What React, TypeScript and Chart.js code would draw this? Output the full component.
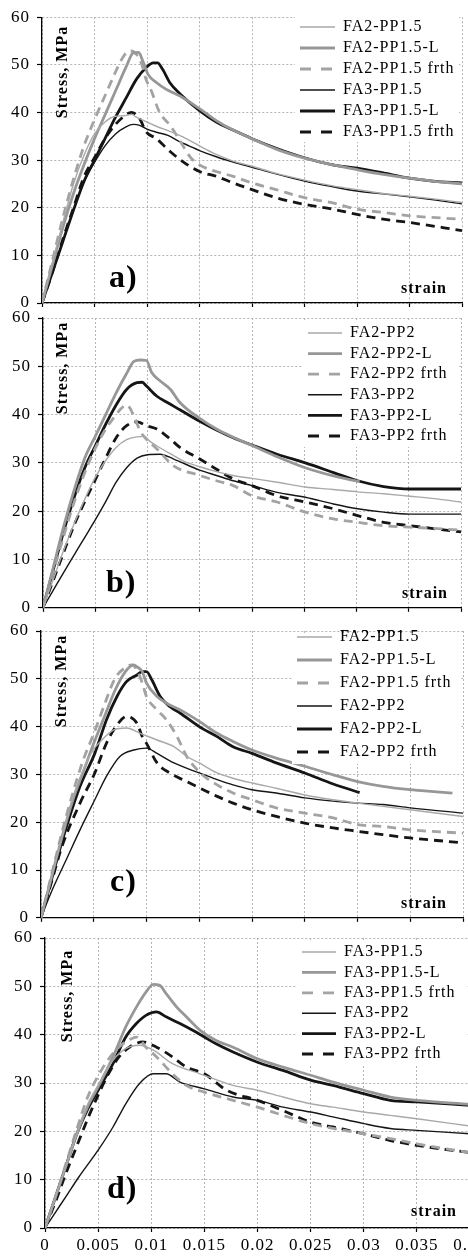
import React, { useEffect, useRef } from 'react';
import { Chart, registerables } from 'chart.js';

Chart.register(...registerables);

type Pt = [number, number];

// ---------- axis ranges ----------
const X_MIN = 0;
const X_MAX = 0.04;
const X_STEP = 0.005;
const Y_MIN = 0;
const Y_MAX = 60;
const Y_STEP = 10;

// ---------- legend labels ----------
const LABELS_A = ['FA2-PP1.5', 'FA2-PP1.5-L', 'FA2-PP1.5 frth', 'FA3-PP1.5', 'FA3-PP1.5-L', 'FA3-PP1.5 frth'];
const LABELS_B = ['FA2-PP2', 'FA2-PP2-L', 'FA2-PP2 frth', 'FA3-PP2', 'FA3-PP2-L', 'FA3-PP2 frth'];
const LABELS_C = ['FA2-PP1.5', 'FA2-PP1.5-L', 'FA2-PP1.5 frth', 'FA2-PP2', 'FA2-PP2-L', 'FA2-PP2 frth'];
const LABELS_D = ['FA3-PP1.5', 'FA3-PP1.5-L', 'FA3-PP1.5 frth', 'FA3-PP2', 'FA3-PP2-L', 'FA3-PP2 frth'];

// ---------- panel a: [strain, stress MPa] ----------
const A_FA2_PP15: Pt[] = [[0,0],[0.001,8.5],[0.002,17],[0.003,25],[0.004,31],[0.005,35.5],[0.006,38],[0.007,39.2],[0.0078,39.3],[0.0085,39.6],[0.009,39],[0.01,38],[0.011,37],[0.012,36.2],[0.013,35.3],[0.014,34.2],[0.015,33],[0.0166,31.2],[0.0182,29.8],[0.02,28.7],[0.0223,27.2],[0.025,25.8],[0.0277,24.6],[0.03,23.8],[0.0325,23],[0.035,22.4],[0.0375,21.8],[0.04,21.1]];
const A_FA2_PP15_L: Pt[] = [[0,0],[0.001,8],[0.002,16],[0.003,23],[0.004,29],[0.005,34.5],[0.006,39.5],[0.007,44.5],[0.008,49.5],[0.0087,52.5],[0.0092,52.6],[0.0096,50.8],[0.0101,48],[0.0109,46.3],[0.0118,44.9],[0.0131,43.5],[0.015,40.8],[0.0166,38.3],[0.0182,36.3],[0.02,34.5],[0.0223,32.3],[0.025,30.4],[0.0277,29],[0.03,28],[0.0325,27],[0.035,26.2],[0.0372,25.6],[0.04,25]];
const A_FA2_PP15_F: Pt[] = [[0,0],[0.001,9],[0.002,18],[0.003,26],[0.004,33],[0.005,38.5],[0.006,43.5],[0.007,48.5],[0.0076,51.2],[0.0082,52.8],[0.0085,52.9],[0.009,52.2],[0.0095,50.1],[0.0099,47],[0.0104,44.6],[0.0112,40],[0.0122,37.3],[0.0131,34.2],[0.0141,30.7],[0.015,29],[0.0166,27.6],[0.0182,26.6],[0.02,25.2],[0.0223,23.8],[0.025,22.1],[0.0277,21],[0.03,19.7],[0.0325,19],[0.035,18.3],[0.04,17.6]];
const A_FA3_PP15: Pt[] = [[0,0],[0.001,6.5],[0.002,13],[0.003,19.5],[0.004,25.5],[0.005,29.5],[0.006,33],[0.007,35.5],[0.008,37],[0.0087,37.5],[0.0093,37.3],[0.01,36.5],[0.011,35.8],[0.012,35.2],[0.013,34],[0.014,33],[0.015,32],[0.0166,30.7],[0.0182,29.6],[0.02,28.5],[0.0223,27.1],[0.025,25.6],[0.0277,24.4],[0.03,23.5],[0.0325,22.9],[0.035,22.3],[0.0375,21.6],[0.04,20.8]];
const A_FA3_PP15_L: Pt[] = [[0,0],[0.001,6.5],[0.002,13],[0.003,19.5],[0.004,25.5],[0.005,30],[0.006,34.5],[0.007,39],[0.008,43],[0.009,47],[0.0099,49.4],[0.0106,50.4],[0.011,50.4],[0.0115,49],[0.0122,46.2],[0.0131,44],[0.015,40.4],[0.0166,38],[0.0182,36.3],[0.02,34.5],[0.0223,32.5],[0.025,30.5],[0.0277,29],[0.03,28.3],[0.0325,27.3],[0.035,26.2],[0.0372,25.6],[0.04,25.2]];
const A_FA3_PP15_F: Pt[] = [[0,0],[0.001,6.5],[0.002,13.5],[0.003,20],[0.004,26.5],[0.005,30.5],[0.006,34.5],[0.007,37.5],[0.008,39.5],[0.0085,40],[0.0093,38.7],[0.0099,36],[0.0109,34.5],[0.0122,31.8],[0.0134,29.7],[0.015,27.6],[0.0166,26.6],[0.0182,25.2],[0.02,23.8],[0.0223,22.1],[0.025,20.7],[0.0277,19.7],[0.03,18.6],[0.0325,17.6],[0.035,16.9],[0.04,15.2]];

// ---------- panel b ----------
const B_FA2_PP2: Pt[] = [[0,0],[0.001,6],[0.002,12],[0.003,17.5],[0.004,22.5],[0.005,27],[0.006,30.5],[0.007,33.2],[0.008,34.8],[0.009,35.4],[0.0097,35.5],[0.0102,34.5],[0.0109,33.5],[0.0125,31.5],[0.0135,30.3],[0.015,29.2],[0.0166,28.2],[0.0182,27.4],[0.02,26.8],[0.0224,26],[0.0251,25],[0.0278,24.5],[0.0301,24],[0.0326,23.6],[0.0351,23.1],[0.0375,22.6],[0.04,21.9]];
const B_FA2_PP2_L: Pt[] = [[0,0],[0.001,8.5],[0.002,17],[0.003,24.5],[0.004,31],[0.005,35.5],[0.006,40],[0.007,44.5],[0.008,48.5],[0.0087,51],[0.0093,51.3],[0.0099,51.2],[0.0104,48.7],[0.0112,47],[0.0122,45.2],[0.0131,42.5],[0.015,39.2],[0.0166,37],[0.0182,35.3],[0.02,33.6],[0.0224,31.3],[0.0251,29],[0.0278,27.3],[0.0303,26.1]];
const B_FA2_PP2_F: Pt[] = [[0,0],[0.001,7.5],[0.002,15],[0.003,22],[0.004,28],[0.005,33],[0.006,37],[0.007,40],[0.0075,41.3],[0.008,42],[0.0087,39.7],[0.0093,36.6],[0.0099,34.9],[0.0109,32.9],[0.0125,29.4],[0.015,27.4],[0.0166,26.3],[0.0182,25.3],[0.02,23.2],[0.0224,21.9],[0.0251,19.8],[0.0278,18.4],[0.0301,17.7],[0.0326,17],[0.0351,16.7],[0.04,16.1]];
const B_FA3_PP2: Pt[] = [[0,0],[0.001,3.7],[0.002,7.4],[0.003,11],[0.004,14.6],[0.005,18.2],[0.006,22],[0.007,26],[0.008,29],[0.009,31],[0.01,31.7],[0.0112,31.8],[0.0125,30.8],[0.015,28.5],[0.0166,27.4],[0.0182,26.3],[0.02,25.3],[0.0224,23.9],[0.0251,22.9],[0.0278,21.5],[0.0301,20.5],[0.0326,19.8],[0.0351,19.4],[0.04,19.4]];
const B_FA3_PP2_L: Pt[] = [[0,0],[0.001,8],[0.002,16],[0.003,23],[0.004,29],[0.005,33.5],[0.006,38],[0.007,42],[0.008,45.2],[0.009,46.6],[0.0095,46.7],[0.0099,45.9],[0.0109,43.8],[0.0119,42.5],[0.0131,41],[0.015,38.6],[0.0166,36.8],[0.0182,35.2],[0.02,33.7],[0.0224,31.8],[0.0251,30],[0.0278,28],[0.0301,26.3],[0.0326,25.1],[0.0351,24.6],[0.04,24.6]];
const B_FA3_PP2_F: Pt[] = [[0,0],[0.001,5.8],[0.002,11.6],[0.003,17.2],[0.004,22],[0.005,26.5],[0.006,31],[0.007,35.2],[0.008,37.7],[0.009,38.5],[0.0099,37.7],[0.0109,37],[0.0122,34.9],[0.0131,33.2],[0.015,30.8],[0.0166,28.7],[0.0182,26.7],[0.02,25.3],[0.0224,23.2],[0.0251,21.9],[0.0278,20.5],[0.0301,19.1],[0.0326,17.7],[0.0351,17],[0.04,15.7]];

// ---------- panel c ----------
const C_FA2_PP15: Pt[] = [[0,0],[0.001,8.5],[0.002,17],[0.003,25],[0.004,31],[0.005,35.3],[0.0056,36.8],[0.0069,39.3],[0.0081,39.7],[0.0094,38.6],[0.011,37.2],[0.0126,35.8],[0.0138,33.8],[0.015,32.4],[0.0167,30.3],[0.0182,29.2],[0.02,28.2],[0.0223,27.1],[0.025,25.7],[0.0277,24.7],[0.03,24],[0.0324,23.3],[0.035,22.6],[0.04,21.2]];
const C_FA2_PP15_L: Pt[] = [[0,0],[0.001,8.5],[0.002,17],[0.003,24.5],[0.004,30.5],[0.005,36.5],[0.006,42],[0.007,47.5],[0.008,51.5],[0.0088,52.9],[0.0091,52.5],[0.0096,51.5],[0.01,49.1],[0.011,46.3],[0.0119,44.9],[0.0132,43.5],[0.015,41.1],[0.0167,38.6],[0.0182,36.9],[0.02,35.1],[0.0223,33.4],[0.025,31.7],[0.0277,29.9],[0.03,28.5],[0.0324,27.5],[0.035,26.8],[0.0372,26.4],[0.039,26.1]];
const C_FA2_PP15_F: Pt[] = [[0,0],[0.001,9],[0.002,18],[0.003,26],[0.004,33],[0.005,38.5],[0.006,44.5],[0.007,50],[0.0081,52.5],[0.0086,52.9],[0.0091,51.8],[0.0096,49.1],[0.01,46.3],[0.011,43.5],[0.0119,41.4],[0.0129,37.9],[0.0138,33.8],[0.0151,30.3],[0.0167,27.8],[0.0182,26.1],[0.02,24.7],[0.0223,23],[0.025,21.9],[0.0277,20.9],[0.03,19.5],[0.0324,19.1],[0.035,18.4],[0.04,17.7]];
const C_FA2_PP2: Pt[] = [[0,0],[0.001,5.5],[0.0024,12.2],[0.0037,18.4],[0.0051,24.7],[0.0062,29.6],[0.0075,33.8],[0.0088,35.1],[0.01,35.5],[0.011,34.4],[0.0126,32.4],[0.015,30.3],[0.0167,28.9],[0.0182,27.8],[0.02,26.8],[0.0223,26.1],[0.025,25.1],[0.0277,24.4],[0.03,24],[0.0324,23.7],[0.035,23],[0.04,21.9]];
const C_FA2_PP2_L: Pt[] = [[0,0],[0.001,8],[0.002,16],[0.0037,27.5],[0.0051,34.4],[0.0062,41.4],[0.0072,46.3],[0.0081,49.4],[0.0091,50.8],[0.0096,51.5],[0.01,51.5],[0.0105,49.8],[0.0113,46.3],[0.0122,44.2],[0.0132,42.8],[0.015,40],[0.0167,37.9],[0.0182,35.8],[0.02,34.4],[0.0223,32.4],[0.025,30.3],[0.0277,28],[0.0302,26.2]];
const C_FA2_PP2_F: Pt[] = [[0,0],[0.001,7.5],[0.002,15],[0.0037,24],[0.0051,30.3],[0.0062,36.5],[0.0071,40],[0.0081,42.1],[0.0091,40.7],[0.0096,37.9],[0.01,36.5],[0.011,32.4],[0.0122,30.3],[0.0138,28.5],[0.0151,27.1],[0.0167,25.4],[0.0182,24],[0.02,22.6],[0.0223,21.2],[0.025,19.8],[0.0277,18.8],[0.03,18.1],[0.0324,17.4],[0.035,16.7],[0.04,15.7]];

// ---------- panel d ----------
const D_FA3_PP15: Pt[] = [[0,0],[0.001,6.5],[0.002,13],[0.003,19.5],[0.004,25.5],[0.005,29.5],[0.0064,34.7],[0.0076,37.1],[0.0089,37.8],[0.0102,36.8],[0.012,34],[0.0146,31.9],[0.0177,29.5],[0.02,28.5],[0.0224,27.1],[0.025,25.7],[0.0271,25],[0.03,24],[0.0325,23.3],[0.035,22.6],[0.04,21.1]];
const D_FA3_PP15_L: Pt[] = [[0,0],[0.001,6.5],[0.002,13],[0.003,19.5],[0.004,25],[0.005,29.2],[0.0064,35.4],[0.0076,41.6],[0.0086,45.7],[0.0095,48.8],[0.0102,50.4],[0.0108,50.2],[0.0114,48.5],[0.0124,45.7],[0.0133,43.7],[0.0146,40.9],[0.0161,38.8],[0.0177,37.4],[0.02,35],[0.0224,33.3],[0.025,31.6],[0.0271,30.2],[0.03,28.5],[0.0325,27.1],[0.035,26.4],[0.04,25.6]];
const D_FA3_PP15_F: Pt[] = [[0,0],[0.001,6.5],[0.002,13.5],[0.003,20.5],[0.004,27],[0.005,31.5],[0.006,35],[0.007,37.5],[0.008,39],[0.0086,39.5],[0.0095,37.4],[0.0105,35.4],[0.012,31.9],[0.0133,29.5],[0.015,28.1],[0.0177,26.4],[0.02,25],[0.0224,23.3],[0.025,21.6],[0.0271,20.6],[0.03,19.5],[0.0325,18.5],[0.035,17.4],[0.04,15.6]];
const D_FA3_PP2: Pt[] = [[0,0],[0.001,3.3],[0.002,6.6],[0.0032,10.6],[0.005,16.1],[0.0064,20.9],[0.0076,25.7],[0.0089,29.9],[0.0102,31.9],[0.0114,31.9],[0.0127,30.2],[0.015,28.8],[0.0177,27.1],[0.02,26.4],[0.0224,25],[0.025,24],[0.0271,23],[0.03,21.6],[0.0325,20.6],[0.035,20.2],[0.04,19.5]];
const D_FA3_PP2_L: Pt[] = [[0,0],[0.001,6.5],[0.002,13],[0.003,19.5],[0.004,24.5],[0.005,28.5],[0.0064,34],[0.0076,39.5],[0.0086,42.3],[0.0095,44],[0.0105,44.7],[0.0114,43.7],[0.0127,42.3],[0.0139,40.9],[0.015,39.5],[0.0161,38.1],[0.0177,36.4],[0.02,34.3],[0.0224,32.6],[0.025,30.6],[0.0271,29.5],[0.03,27.8],[0.0325,26.4],[0.035,26.1],[0.04,25.4]];
const D_FA3_PP2_F: Pt[] = [[0,0],[0.001,5.5],[0.002,11.5],[0.003,17],[0.004,22.5],[0.005,27.5],[0.006,32],[0.007,35.5],[0.008,37.5],[0.0092,38.5],[0.0105,37.4],[0.012,35.4],[0.0133,33.3],[0.015,31.9],[0.0171,28.5],[0.02,26.4],[0.0224,24.3],[0.025,21.9],[0.0271,20.9],[0.03,19.5],[0.0325,18.1],[0.035,17.1],[0.04,15.6]];

// ---------- styles (thin grey, thick grey, dashed grey, thin black, thick black, dashed black) ----------
const STYLES = [
  { color: '#a9a9a9', width: 1.4, dash: [] as number[] },
  { color: '#979797', width: 2.8, dash: [] as number[] },
  { color: '#a3a3a3', width: 2.8, dash: [9, 6] },
  { color: '#151515', width: 1.4, dash: [] as number[] },
  { color: '#151515', width: 2.8, dash: [] as number[] },
  { color: '#151515', width: 2.8, dash: [9, 6] },
];
const LEGEND_DASH = [11, 10];

const SERIF = "'Liberation Serif', 'Times New Roman', serif";

interface PanelDef {
  key: string;
  letter: string;
  labels: string[];
  series: Pt[][];
  canvasTop: number;
  canvasH: number;
  canvasW: number;
  area: { l: number; r: number; t: number; b: number };
  xLabels: boolean;
  legend: { x: number; y: number; pad: number; box: number };
  bg: { x1: number; x2: number; y1: number; y2: number };
  stress: { x: number; y: number };
  strain: { x: number; y: number };
  letterPos: { x: number; y: number };
}

const PANELS: PanelDef[] = [
  {
    key: 'a', letter: 'a)', labels: LABELS_A,
    series: [A_FA2_PP15, A_FA2_PP15_L, A_FA2_PP15_F, A_FA3_PP15, A_FA3_PP15_L, A_FA3_PP15_F],
    canvasTop: 0, canvasH: 325, canvasW: 468,
    area: { l: 42, r: 462, t: 14, b: 303 }, xLabels: false,
    legend: { x: 300, y: 27, pad: 5, box: 35 },
    bg: { x1: 295, x2: 459, y1: 16, y2: 142 },
    stress: { x: 63, y: 72 }, strain: { x: 447, y: 293 }, letterPos: { x: 109, y: 287 },
  },
  {
    key: 'b', letter: 'b)', labels: LABELS_B,
    series: [B_FA2_PP2, B_FA2_PP2_L, B_FA2_PP2_F, B_FA3_PP2, B_FA3_PP2_L, B_FA3_PP2_F],
    canvasTop: 300, canvasH: 325, canvasW: 468,
    area: { l: 43, r: 461, t: 318, b: 609 }, xLabels: false,
    legend: { x: 308, y: 333, pad: 4.6, box: 34 },
    bg: { x1: 303, x2: 458, y1: 321, y2: 447 },
    stress: { x: 63, y: 368 }, strain: { x: 448, y: 598 }, letterPos: { x: 106, y: 592 },
  },
  {
    key: 'c', letter: 'c)', labels: LABELS_C,
    series: [C_FA2_PP15, C_FA2_PP15_L, C_FA2_PP15_F, C_FA2_PP2, C_FA2_PP2_L, C_FA2_PP2_F],
    canvasTop: 612, canvasH: 323, canvasW: 468,
    area: { l: 41, r: 463, t: 631, b: 918 }, xLabels: false,
    legend: { x: 297, y: 637, pad: 7, box: 35 },
    bg: { x1: 292, x2: 460, y1: 633, y2: 764 },
    stress: { x: 62, y: 681 }, strain: { x: 447, y: 908 }, letterPos: { x: 110, y: 891 },
  },
  {
    key: 'd', letter: 'd)', labels: LABELS_D,
    series: [D_FA3_PP15, D_FA3_PP15_L, D_FA3_PP15_F, D_FA3_PP2, D_FA3_PP2_L, D_FA3_PP2_F],
    canvasTop: 920, canvasH: 336, canvasW: 500,
    area: { l: 45, r: 470, t: 938, b: 1228 }, xLabels: true,
    legend: { x: 302, y: 952, pad: 4.4, box: 34 },
    bg: { x1: 297, x2: 467, y1: 941, y2: 1065 },
    stress: { x: 68, y: 996 }, strain: { x: 457, y: 1216 }, letterPos: { x: 107, y: 1198 },
  },
];

function fmtStrain(v: number): string {
  return String(parseFloat(Number(v).toFixed(4)));
}

function Panel({ p }: { p: PanelDef }) {
  const ref = useRef<HTMLCanvasElement | null>(null);

  useEffect(() => {
    const canvas = ref.current;
    if (!canvas) return;
    const off = p.canvasTop;
    const SPACING = '1px';

    const decor = {
      id: 'decor_' + p.key,
      beforeLayout(chart: any) {
        chart.ctx.letterSpacing = SPACING;
      },
      afterLayout(chart: any) {
        const lg = chart.legend;
        if (!lg) return;
        lg.left = p.legend.x - p.legend.pad;
        lg.top = p.legend.y - off - 8 - p.legend.pad;
        lg.right = chart.width;
        lg.bottom = chart.height;
      },
      beforeDraw(chart: any) {
        chart.ctx.letterSpacing = SPACING;
      },
      afterDatasetsDraw(chart: any) {
        const ctx: CanvasRenderingContext2D = chart.ctx;
        ctx.save();
        ctx.fillStyle = '#ffffff';
        ctx.fillRect(p.bg.x1, p.bg.y1 - off, p.bg.x2 - p.bg.x1, p.bg.y2 - p.bg.y1);
        ctx.restore();
        if (chart.legend) chart.legend.draw(chart.chartArea);

        ctx.save();
        (ctx as any).letterSpacing = SPACING;
        ctx.fillStyle = '#000';
        ctx.save();
        ctx.translate(p.stress.x, p.stress.y - off);
        ctx.rotate(-Math.PI / 2);
        ctx.font = `bold 16px ${SERIF}`;
        ctx.textAlign = 'center';
        ctx.textBaseline = 'middle';
        ctx.fillText('Stress, MPa', 0, 0);
        ctx.restore();
        ctx.font = `bold 16px ${SERIF}`;
        ctx.textAlign = 'right';
        ctx.textBaseline = 'alphabetic';
        ctx.fillText('strain', p.strain.x, p.strain.y - off);
        ctx.font = `bold 32px ${SERIF}`;
        ctx.textAlign = 'left';
        ctx.fillText(p.letter, p.letterPos.x, p.letterPos.y - off);
        ctx.restore();
      },
    };

    const datasets = p.series.map((pts, i) => ({
      label: p.labels[i],
      data: pts.map(([x, y]) => ({ x, y })),
      borderColor: STYLES[i].color,
      backgroundColor: STYLES[i].color,
      borderWidth: STYLES[i].width,
      borderDash: STYLES[i].dash,
      pointRadius: 0,
      pointHoverRadius: 0,
      fill: false,
      cubicInterpolationMode: 'monotone' as const,
    }));

    const gridCommon = {
      color: '#b4b4b4',
      lineWidth: 1,
      tickColor: '#000',
      tickLength: 5,
      tickWidth: 1.2,
      drawTicks: true,
    };

    const tickFont = { family: SERIF, size: 17 };

    const chart = new Chart(canvas, {
      type: 'line',
      data: { datasets },
      options: {
        animation: false,
        responsive: false,
        maintainAspectRatio: false,
        devicePixelRatio: 1,
        events: [],
        layout: {
          padding: {
            left: 0,
            right: p.canvasW - p.area.r,
            top: p.area.t - off,
            bottom: 0,
          },
        },
        scales: {
          x: {
            type: 'linear',
            min: X_MIN,
            max: X_MAX,
            grid: { ...gridCommon, tickLength: 4 },
            border: { display: true, color: '#000', width: 1.3, dash: [2, 2] },
            ticks: {
              display: p.xLabels,
              stepSize: X_STEP,
              autoSkip: false,
              maxRotation: 0,
              padding: 3,
              color: '#000',
              font: tickFont,
              callback: (v: any) => fmtStrain(Number(v)),
            },
            afterFit: (s: any) => {
              s.height = off + p.canvasH - p.area.b;
            },
          },
          y: {
            type: 'linear',
            min: Y_MIN,
            max: Y_MAX,
            grid: gridCommon,
            border: { display: true, color: '#000', width: 1.3, dash: [2, 2] },
            ticks: {
              stepSize: Y_STEP,
              padding: 7,
              color: '#000',
              font: tickFont,
            },
            afterFit: (s: any) => {
              s.width = p.area.l;
            },
          },
        },
        plugins: {
          tooltip: { enabled: false },
          legend: {
            display: true,
            position: 'chartArea' as any,
            align: 'start',
            labels: {
              usePointStyle: true,
              pointStyle: 'line',
              pointStyleWidth: p.legend.box,
              padding: p.legend.pad,
              color: '#000',
              font: { family: SERIF, size: 16 },
              generateLabels: (ch: any) => {
                const base = (Chart.defaults.plugins.legend.labels as any).generateLabels(ch);
                return base.map((it: any) => {
                  const ds: any = ch.data.datasets[it.datasetIndex];
                  return {
                    ...it,
                    pointStyle: 'line',
                    strokeStyle: ds.borderColor,
                    fillStyle: ds.borderColor,
                    lineWidth: ds.borderWidth,
                    lineDash: ds.borderDash && ds.borderDash.length ? LEGEND_DASH : [],
                    lineCap: 'butt',
                  };
                });
              },
            },
          },
        },
      },
      plugins: [decor],
    });

    return () => {
      chart.destroy();
    };
  }, [p]);

  return (
    <canvas
      ref={ref}
      width={p.canvasW}
      height={p.canvasH}
      style={{
        position: 'absolute',
        left: 0,
        top: p.canvasTop,
        width: p.canvasW,
        height: p.canvasH,
      }}
    />
  );
}

export default function App() {
  return (
    <div
      style={{
        position: 'absolute',
        left: 0,
        top: 0,
        width: 468,
        height: 1256,
        overflow: 'hidden',
        background: '#ffffff',
      }}
    >
      {PANELS.map((p) => (
        <Panel key={p.key} p={p} />
      ))}
    </div>
  );
}
